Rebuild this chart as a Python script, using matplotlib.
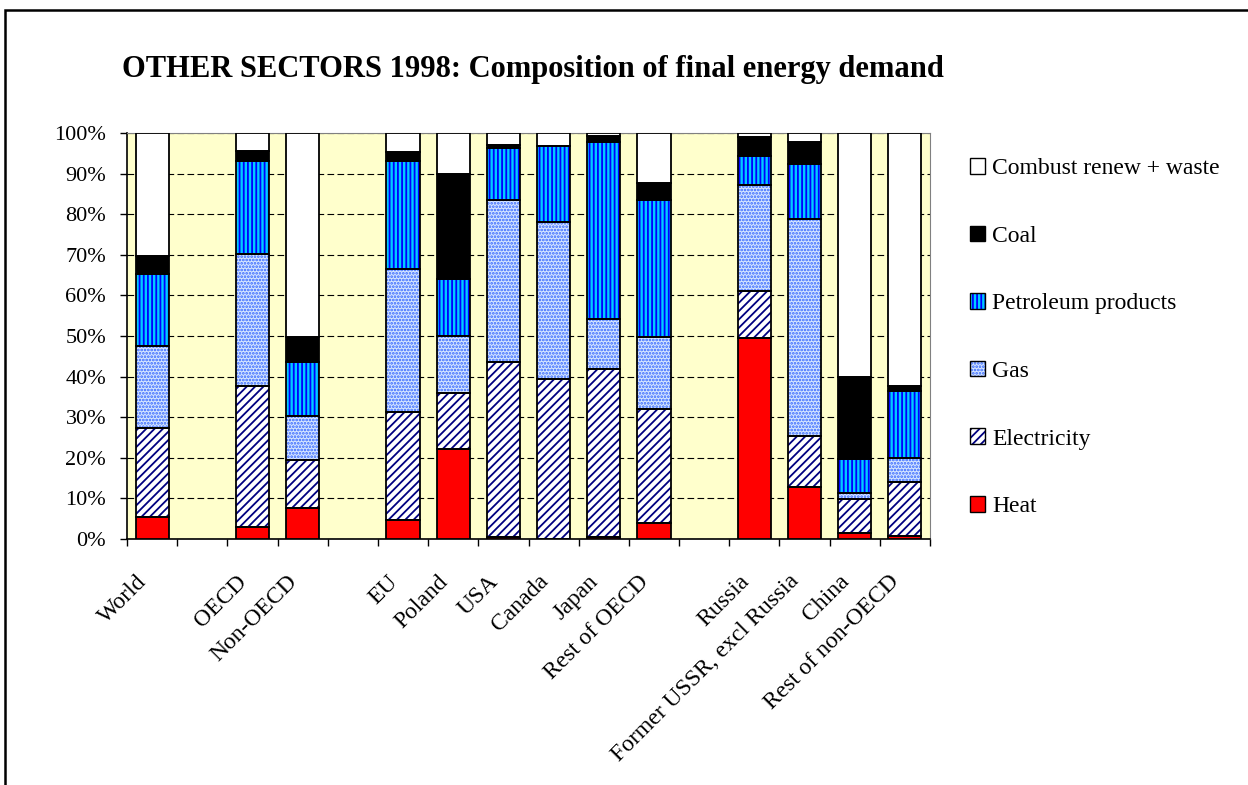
import numpy as np
import matplotlib
matplotlib.use('Agg')
import matplotlib.pyplot as plt
import matplotlib.patches as mpatches
import matplotlib.transforms as mtransforms
from matplotlib.ticker import FuncFormatter, MultipleLocator

"""stacked shares of final energy demand, other sectors 1998
"""
plt.rcParams['font.family'] = ['Liberation Serif', 'DejaVu Serif']
plt.rcParams['hatch.linewidth'] = 1.3

# blank names are the empty gap slots between region groups
regions = ['World', '', 'OECD', 'Non-OECD', '', 'EU', 'Poland', 'USA',
           'Canada', 'Japan', 'Rest of OECD', '', 'Russia',
           'Former USSR, excl Russia', 'China', 'Rest of non-OECD']

heat = [5.3, None, 2.9, 7.6, None, 4.7, 22.2, 0.4, 0.0, 0.6, 3.9, None,
        49.4, 12.9, 1.6, 0.7]
electricity = [22.0, None, 34.7, 11.9, None, 26.5, 13.7, 43.1, 39.4, 41.2,
               28.1, None, 11.7, 12.5, 8.3, 13.3]
gas = [20.3, None, 32.5, 10.9, None, 35.3, 14.1, 40.1, 38.8, 12.4, 17.7,
       None, 26.0, 53.5, 1.4, 6.0]
petroleum = [17.6, None, 23.0, 13.1, None, 26.7, 14.0, 12.7, 18.5, 43.7,
             33.9, None, 7.3, 13.5, 8.4, 16.5]
coal = [4.6, None, 2.5, 6.2, None, 2.1, 25.9, 0.7, 0.1, 1.4, 4.1, None,
        4.5, 5.4, 20.1, 1.1]
combust = [30.2, None, 4.4, 50.3, None, 4.7, 10.1, 3.0, 3.2, 0.7, 12.3,
           None, 1.1, 2.2, 60.2, 62.4]

series = [
    ('Heat', heat, '#FF0000', '#FF0000', ''),
    ('Electricity', electricity, '#FFFFFF', '#000080', '////'),
    ('Gas', gas, '#D6E6FF', '#3366FF', '.....'),
    ('Petroleum products', petroleum, '#00CCFF', '#0000FF', '||||'),
    ('Coal', coal, '#000000', '#000000', ''),
    ('Combust renew + waste', combust, '#FFFFFF', '#FFFFFF', ''),
]

W, H = 1248, 785
fig = plt.figure(figsize=(W / 100, H / 100), dpi=100)
ax = fig.add_axes([127 / W, (H - 539) / H, (930 - 127) / W, (539 - 133) / H])
ax.set_facecolor('#FFFFCC')

# outer chart frame
fig.patches.append(mpatches.Rectangle((5 / W, -0.01), 1.1, (H - 10) / H + 0.01,
                                      transform=fig.transFigure, fill=False,
                                      edgecolor='k', linewidth=1.8))

idx = [i for i, r in enumerate(regions) if heat[i] is not None]
x = np.array(idx, dtype=float)
bottom = np.zeros(len(idx))
handles = []
for name, vals, fc, hc, hatch in series:
    v = np.array([vals[i] for i in idx])
    ax.bar(x, v, 0.66, bottom=bottom, color=fc, edgecolor=hc, hatch=hatch,
           linewidth=0, zorder=3)
    ax.bar(x, v, 0.66, bottom=bottom, fill=False, edgecolor='k',
           linewidth=1.3, zorder=4)
    bottom += v
    handles.append((mpatches.Patch(facecolor=fc, edgecolor=hc, hatch=hatch,
                                   linewidth=0),
                    mpatches.Patch(fill=False, edgecolor='k', linewidth=1.0)))

ax.set_xlim(-0.5, len(regions) - 0.5)
ax.set_ylim(0, 100)
ax.yaxis.set_major_locator(MultipleLocator(10))
ax.yaxis.set_major_formatter(FuncFormatter(lambda v, p: '%d%%' % v))
ax.grid(axis='y', color='k', linestyle=(0, (6, 3)), linewidth=0.8, zorder=1)

ax.set_xticks(np.arange(len(regions) + 1) - 0.5)
ax.set_xticklabels([])
ax.set_xticks(np.arange(len(regions)), minor=True)
ax.set_xticklabels(regions, minor=True, rotation=45, ha='right',
                   rotation_mode='anchor', fontsize=17)
ax.tick_params(axis='x', which='minor', length=0, pad=23)
ax.tick_params(axis='x', which='major', length=5, direction='out', width=1)
ax.tick_params(axis='y', length=5, direction='out', width=1, labelsize=16,
               pad=10)
shift = mtransforms.ScaledTranslation(-0.16, 0, fig.dpi_scale_trans)
for lab in ax.get_xticklabels(minor=True):
    lab.set_transform(lab.get_transform() + shift)

ax.spines['top'].set_color('#808080')
ax.spines['right'].set_color('#808080')
ax.spines['left'].set_linewidth(1.2)
ax.spines['bottom'].set_linewidth(1.2)

fig.text(122 / W, 1 - 77.5 / H, 'OTHER SECTORS 1998: Composition of final energy demand',
         fontsize=22, fontweight='bold', va='baseline', ha='left')

leg = ax.legend(handles[::-1], [s[0] for s in series][::-1],
                loc='upper left', bbox_to_anchor=(970 / W, 1 - 158 / H),
                bbox_transform=fig.transFigure, frameon=False, fontsize=17,
                handlelength=0.64, handleheight=0.64, handletextpad=0.3,
                labelspacing=1.97, borderpad=0, borderaxespad=0)

fig.savefig('out.png', dpi=100)
